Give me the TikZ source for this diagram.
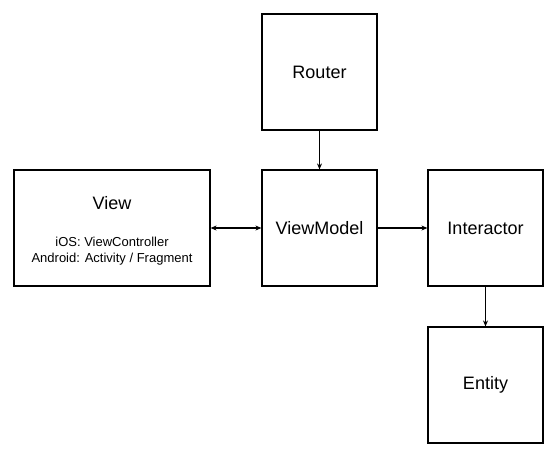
\documentclass[tikz,border=0pt]{standalone}
\usepackage{fontspec}
\setmainfont{Liberation Sans}
\usetikzlibrary{arrows.meta}
\begin{document}
\begin{tikzpicture}[x=1pt,y=-1pt,
  box/.style={draw=black, line width=1.2pt, inner sep=0pt, fill=white},
  lbl/.style={font=\fontsize{18}{20}\selectfont},
  sub/.style={font=\fontsize{13}{16}\selectfont, align=center},
  conn/.style={line width=1.1pt, -{Stealth[length=6pt,width=5pt]}},
  conn2/.style={line width=1.1pt, {Stealth[length=6pt,width=5pt]}-{Stealth[length=6pt,width=5pt]}}]
\useasboundingbox[fill=white] (0,0) rectangle (556,459);
\node[box, minimum width=115pt, minimum height=116pt] (router) at (319.5,72) {};
\node[box, minimum width=196pt, minimum height=116pt] (view) at (112,228) {};
\node[box, minimum width=115pt, minimum height=116pt] (vm) at (319.5,228) {};
\node[box, minimum width=115pt, minimum height=116pt] (inter) at (485.5,228) {};
\node[box, minimum width=115pt, minimum height=116pt] (entity) at (485.5,385) {};
\node[lbl] (routerl) at (router.center) {Router};
\node[lbl] (viewl) at (112,203) {View};
\node[sub] (views) at (112,251) {iOS: ViewController\\Android: Activity / Fragment};
\node[lbl] (vml) at (vm.center) {ViewModel};
\node[lbl] (interl) at (inter.center) {Interactor};
\node[lbl] (entityl) at (entity.center) {Entity};
\draw[conn] (router.south) -- (vm.north);
\draw[conn2] (view.east) -- (vm.west);
\draw[conn] (vm.east) -- (inter.west);
\draw[conn] (inter.south) -- (entity.north);
\end{tikzpicture}
\end{document}
